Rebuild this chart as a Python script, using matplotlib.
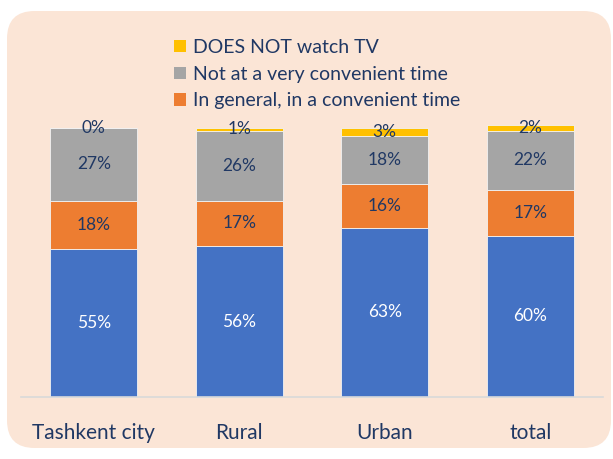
import matplotlib
matplotlib.use("Agg")
import matplotlib.pyplot as plt
from matplotlib.patches import FancyBboxPatch, Patch
import numpy as np

plt.rcParams['font.family'] = ['Lato', 'DejaVu Sans']

categories = ['Tashkent city', 'Rural', 'Urban', 'total']
convenient = [55, 56, 63, 60]
in_general = [18, 17, 16, 17]
not_convenient = [27, 26, 18, 22]
no_tv = [0, 1, 3, 2]

series = [
    (convenient, '#4472C4', 'white', None),
    (in_general, '#ED7D31', '#203864', 'In general, in a convenient time'),
    (not_convenient, '#A5A5A5', '#203864', 'Not at a very convenient time'),
    (no_tv, '#FFC000', '#203864', 'DOES NOT watch TV'),
]

W, H = 613, 459
fig = plt.figure(figsize=(W / 100, H / 100), dpi=100)
fig.patch.set_facecolor('white')

# rounded peach panel behind the chart
panel = FancyBboxPatch((7 / W, 11 / H), 604 / W, 437 / H,
                       boxstyle='round,pad=0,rounding_size=0.045',
                       transform=fig.transFigure, facecolor='#FBE5D6',
                       edgecolor='none', mutation_aspect=W / H, zorder=-5)
fig.patches.append(panel)

ax = fig.add_axes([21 / W, 62 / H, 582 / W, 269 / H])
ax.set_facecolor('none')
ax.set_zorder(1)

x = np.arange(len(categories))
bottom = np.zeros(len(categories))
for vals, color, tcolor, label in series:
    vals = np.array(vals, dtype=float)
    ax.bar(x, vals, 0.6, bottom=bottom, color=color, edgecolor='#F2F2F2',
           linewidth=0.6, clip_on=False, zorder=2)
    for xi, b, v in zip(x, bottom, vals):
        ax.text(xi, b + v / 2, f'{int(v)}%', ha='center', va='center',
                fontsize=12.5, color=tcolor, zorder=3)
    bottom += vals

ax.set_xlim(-0.5, len(categories) - 0.5)
ax.set_ylim(0, 100)
ax.set_yticks([])
ax.set_xticks(x)
ax.set_xticklabels(categories, fontsize=15, color='#203864')
ax.tick_params(axis='x', length=0, pad=19)
for side in ['top', 'left', 'right']:
    ax.spines[side].set_visible(False)
ax.spines['bottom'].set_color('#D9D9D9')
ax.spines['bottom'].set_linewidth(1.2)

handles = [Patch(facecolor=c, edgecolor='none', label=l)
           for _, c, _, l in reversed(series) if l]
fig.legend(handles=handles, loc='upper left',
           bbox_to_anchor=(174 / W, 1 - 39 / H), frameon=False,
           fontsize=14, labelcolor='#203864', handlelength=0.6,
           handleheight=0.6, handletextpad=0.4, labelspacing=0.5,
           borderaxespad=0, borderpad=0)

fig.savefig('out.png', dpi=100)
